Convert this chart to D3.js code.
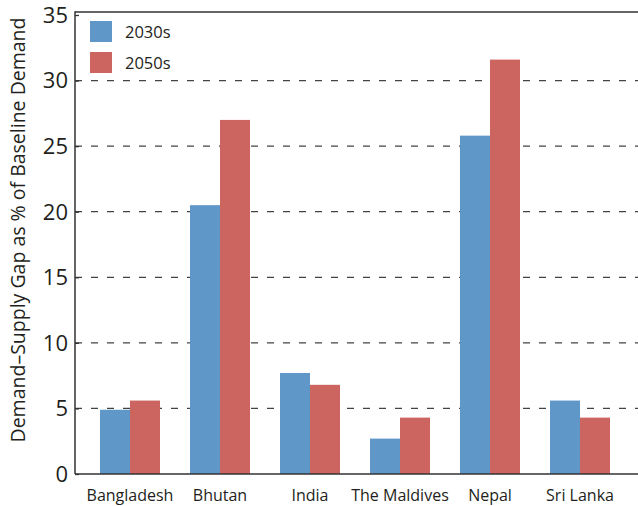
<!DOCTYPE html>
<html>
<head>
<meta charset="utf-8">
<script src="https://d3js.org/d3.v7.min.js"></script>
<style>
  body { margin: 0; background: #fff; }
  text { font-family: "Open Sans", "Noto Sans", sans-serif; fill: #231f20; }
</style>
</head>
<body>
<div id="chart"></div>
<script>
// data
const countries = ["Bangladesh", "Bhutan", "India", "The Maldives", "Nepal", "Sri Lanka"];
const series = ["2030s", "2050s"];
const values2030s = [4.9, 20.5, 7.7, 2.7, 25.8, 5.6];
const values2050s = [5.6, 27.0, 6.8, 4.3, 31.6, 4.3];
const yTicks = [0, 5, 10, 15, 20, 25, 30, 35];
const colors = ["#6097c9", "#cc655f"];

const width = 638, height = 506;
const margin = { top: 15, right: 0, bottom: 32, left: 75 };

const svg = d3.select("#chart")
  .append("svg")
  .attr("width", width)
  .attr("height", height)
  .attr("viewBox", [0, 0, width, height]);

const xScale = d3.scaleBand()
  .domain(countries)
  .range([85, 625])
  .paddingInner(1 / 3)
  .paddingOuter(1 / 6);

const xInner = d3.scaleBand()
  .domain(series)
  .range([0, xScale.bandwidth()]);

const yScale = d3.scaleLinear()
  .domain([0, 35])
  .range([height - margin.bottom, margin.top]);

// dashed gridlines
svg.append("g")
  .selectAll("line")
  .data(yTicks.filter(d => d > 0 && d < 35))
  .enter()
  .append("line")
    .attr("x1", margin.left)
    .attr("x2", width)
    .attr("y1", d => yScale(d))
    .attr("y2", d => yScale(d))
    .attr("stroke", "#444")
    .attr("stroke-width", 1.3)
    .attr("stroke-dasharray", "7,9");

// bars
const rows = countries.map((c, i) => ({ name: c, vals: [values2030s[i], values2050s[i]] }));

svg.append("g")
  .selectAll("g")
  .data(rows)
  .enter()
  .append("g")
    .attr("transform", d => `translate(${xScale(d.name)},0)`)
  .selectAll("rect")
  .data(d => d.vals.map((v, j) => ({ key: series[j], v: v, j: j })))
  .enter()
  .append("rect")
    .attr("x", d => xInner(d.key))
    .attr("width", xInner.bandwidth())
    .attr("y", d => yScale(d.v))
    .attr("height", d => yScale(0) - yScale(d.v))
    .attr("fill", d => colors[d.j]);

// frame: top line and left/bottom axes
svg.append("line")
  .attr("x1", margin.left).attr("x2", width)
  .attr("y1", yScale(35) - 3).attr("y2", yScale(35) - 3)
  .attr("stroke", "#333").attr("stroke-width", 1.5);

svg.append("g")
  .attr("transform", `translate(${margin.left},0)`)
  .call(d3.axisRight(yScale).tickValues(yTicks).tickSize(4).tickFormat(""))
  .call(g => g.select(".domain").remove())
  .call(g => g.selectAll(".tick line").attr("stroke", "#333").attr("stroke-width", 1.3));

svg.append("line")
  .attr("x1", margin.left).attr("x2", margin.left)
  .attr("y1", yScale(35) - 3.7).attr("y2", yScale(0))
  .attr("stroke", "#333").attr("stroke-width", 1.5);

svg.append("line")
  .attr("x1", margin.left).attr("x2", width)
  .attr("y1", yScale(0)).attr("y2", yScale(0))
  .attr("stroke", "#333").attr("stroke-width", 1.5);

// y tick labels
svg.append("g")
  .selectAll("text")
  .data(yTicks)
  .enter()
  .append("text")
    .attr("x", margin.left - 7)
    .attr("y", d => yScale(d))
    .attr("dy", "0.36em")
    .attr("text-anchor", "end")
    .attr("font-size", "22px")
    .text(d => d);

// x tick labels
svg.append("g")
  .selectAll("text")
  .data(countries)
  .enter()
  .append("text")
    .attr("x", d => xScale(d) + xScale.bandwidth() / 2)
    .attr("y", yScale(0) + 27)
    .attr("text-anchor", "middle")
    .attr("font-size", "16px")
    .text(d => d);

// y axis title
svg.append("text")
  .attr("transform", `translate(25,230) rotate(-90)`)
  .attr("text-anchor", "middle")
  .attr("font-size", "19.5px")
  .text("Demand–Supply Gap as % of Baseline Demand");

// legend
const legend = svg.append("g")
  .selectAll("g")
  .data(series)
  .enter()
  .append("g")
    .attr("transform", (d, i) => `translate(90,${21 + i * 31})`);

legend.append("rect")
  .attr("width", 22)
  .attr("height", 21)
  .attr("fill", (d, i) => colors[i]);

legend.append("text")
  .attr("x", 35)
  .attr("y", 11)
  .attr("dy", "0.36em")
  .attr("font-size", "16.5px")
  .text(d => d);
</script>
</body>
</html>
